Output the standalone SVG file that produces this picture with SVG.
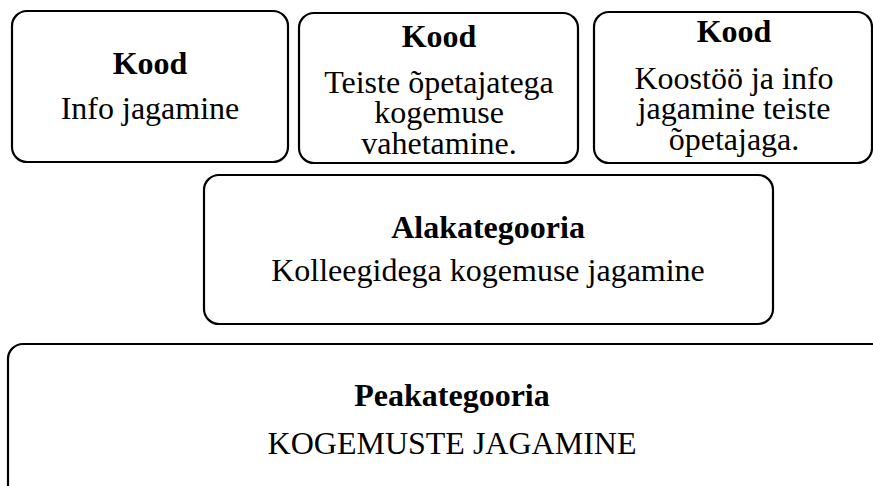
<svg xmlns="http://www.w3.org/2000/svg" width="873" height="486" viewBox="0 0 873 486">
<style>
.box{fill:#fff;stroke:#000;stroke-width:2.2}
text{font-family:"Liberation Serif","Times New Roman",serif;font-size:32px;fill:#000;text-anchor:middle}
.b{font-weight:bold}
</style>
<rect width="873" height="486" fill="#fff"/>
<g id="kood1">
<rect class="box" x="12" y="11" width="276" height="151" rx="15"/>
<text class="b" x="150" y="74">Kood</text>
<text x="150" y="119">Info jagamine</text>
</g>
<g id="kood2">
<rect class="box" x="299" y="13" width="279" height="150" rx="15"/>
<text class="b" x="439" y="47">Kood</text>
<text x="439" y="93">Teiste õpetajatega</text>
<text x="439" y="123">kogemuse</text>
<text x="439" y="154">vahetamine.</text>
</g>
<g id="kood3">
<rect class="box" x="594" y="12" width="278" height="151" rx="15"/>
<text class="b" x="734" y="42">Kood</text>
<text x="734" y="89">Koostöö ja info</text>
<text x="734" y="119">jagamine teiste</text>
<text x="734" y="150">õpetajaga.</text>
</g>
<g id="alakategooria">
<rect class="box" x="204" y="175" width="569" height="149" rx="15"/>
<text class="b" x="488" y="238">Alakategooria</text>
<text x="488" y="281">Kolleegidega kogemuse jagamine</text>
</g>
<g id="peakategooria">
<rect class="box" x="8" y="344" width="880" height="160" rx="15"/>
<text class="b" x="452" y="406">Peakategooria</text>
<text x="452" y="454">KOGEMUSTE JAGAMINE</text>
</g>
<g id="connectors"></g>
</svg>
